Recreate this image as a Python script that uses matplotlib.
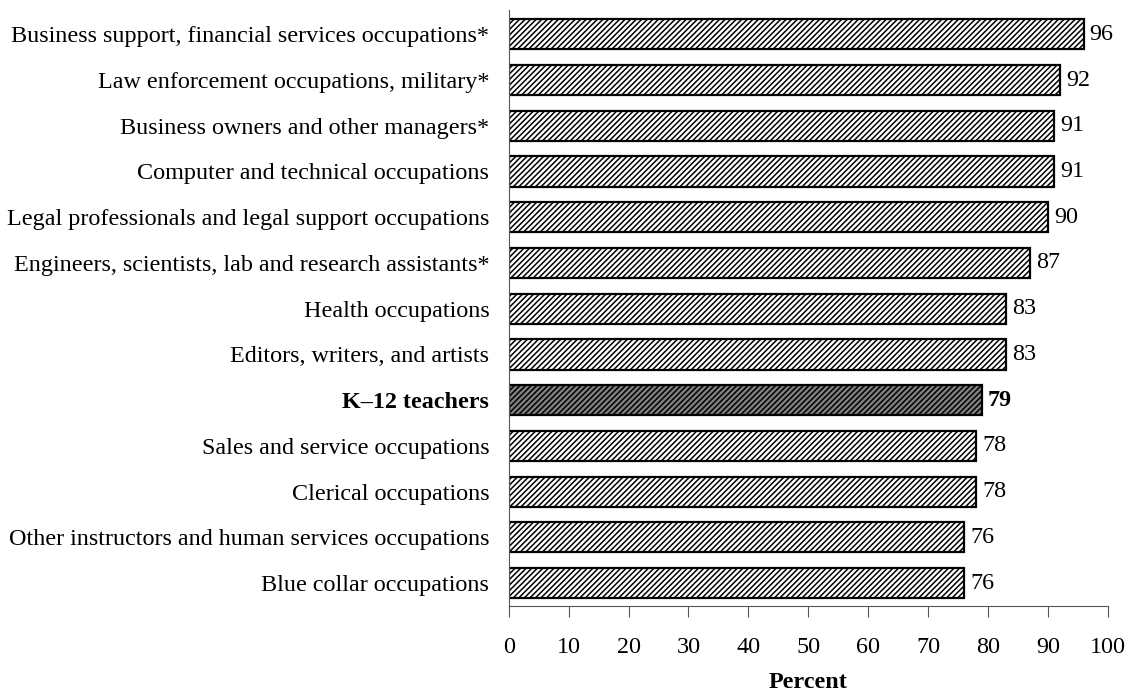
import matplotlib
matplotlib.use('Agg')
import matplotlib.pyplot as plt

categories = [
    "Business support, financial services occupations*",
    "Law enforcement occupations, military*",
    "Business owners and other managers*",
    "Computer and technical occupations",
    "Legal professionals and legal support occupations",
    "Engineers, scientists, lab and research assistants*",
    "Health occupations",
    "Editors, writers, and artists",
    "K\u201312 teachers",
    "Sales and service occupations",
    "Clerical occupations",
    "Other instructors and human services occupations",
    "Blue collar occupations",
]
values = [96, 92, 91, 91, 90, 87, 83, 83, 79, 78, 78, 76, 76]
highlight = "K\u201312 teachers"
x_ticks = [0, 10, 20, 30, 40, 50, 60, 70, 80, 90, 100]

plt.rcParams['font.family'] = ['Liberation Serif', 'DejaVu Serif']
plt.rcParams['hatch.linewidth'] = 1.1
FS = 17.4

fig = plt.figure(figsize=(11.28, 6.91), dpi=100)
ax = fig.add_axes([0.451, 0.123, 0.531, 0.8625])

pos = list(range(len(categories)))
for i, (cat, val) in enumerate(zip(categories, values)):
    is_hl = cat == highlight
    ax.barh(i, val, height=0.66, color='#808080' if is_hl else 'white',
            edgecolor='black', linewidth=1.6, hatch='//////')
    ax.text(val + 1.0, i, str(val), va='center', ha='left', fontsize=FS,
            fontweight='bold' if is_hl else 'normal')

ax.set_ylim(len(categories) - 0.5, -0.53)
ax.set_xlim(0, 100)
ax.set_yticks(pos)
ax.set_yticklabels(categories, fontsize=FS)
for lbl in ax.get_yticklabels():
    if lbl.get_text() == highlight:
        lbl.set_fontweight('bold')
ax.tick_params(axis='y', length=0, pad=14)
ax.set_xticks(x_ticks)
ax.tick_params(axis='x', length=8, direction='out', pad=14, labelsize=FS,
               color='#555555')

# axis title sits at the very bottom edge, centred under the plot area
fig.text(0.7165, 3 / 691, 'Percent', ha='center', va='baseline',
         fontsize=FS, fontweight='bold')

for s in ['top', 'right']:
    ax.spines[s].set_visible(False)
ax.spines['left'].set_color('#555555')
ax.spines['bottom'].set_color('#555555')

fig.savefig('out.png', dpi=100)
